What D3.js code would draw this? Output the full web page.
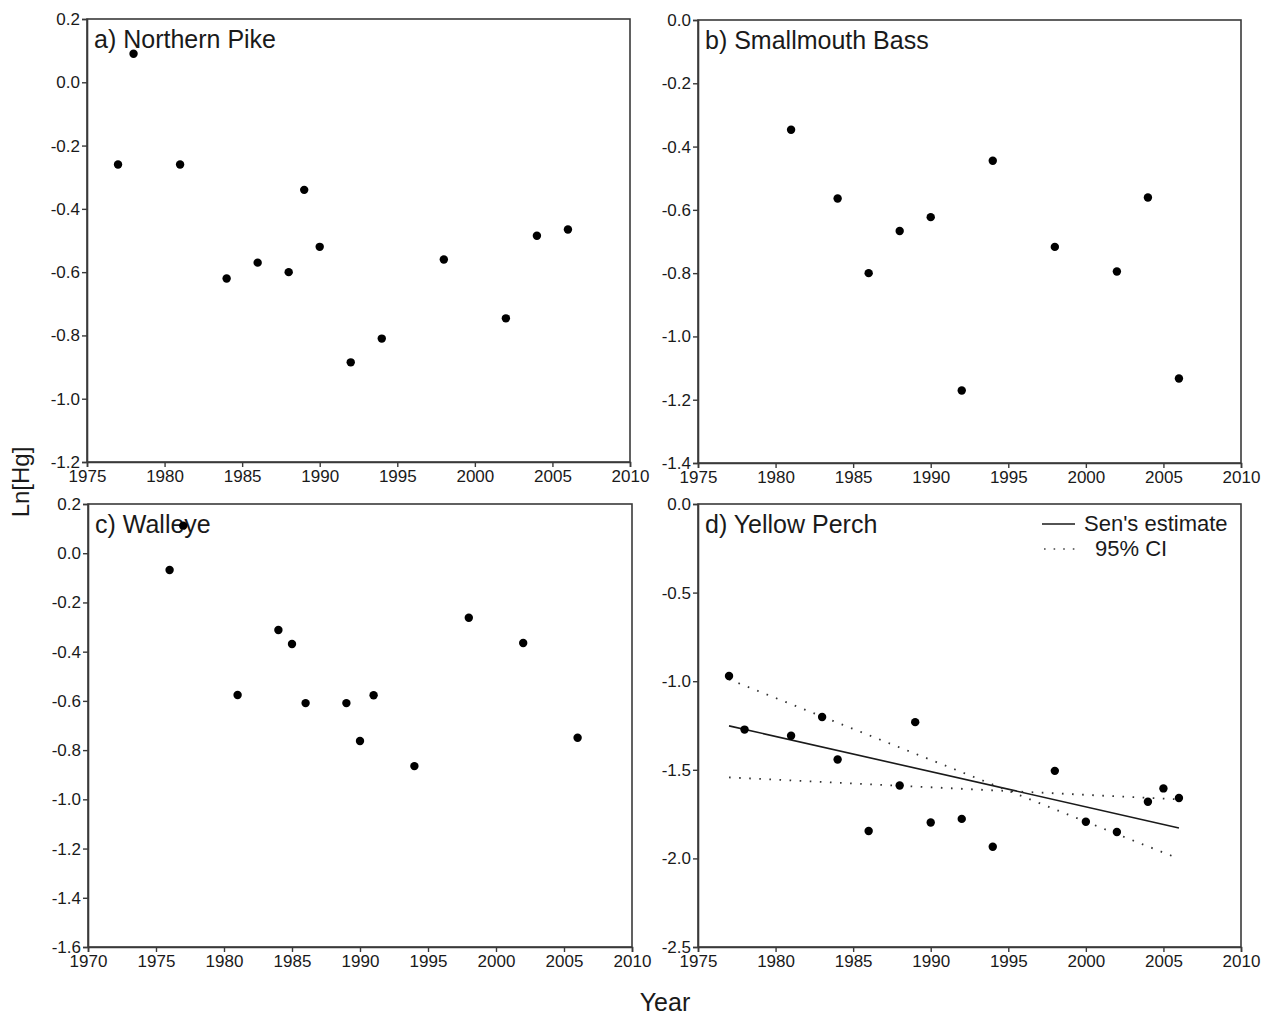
<!DOCTYPE html>
<html>
<head>
<meta charset="utf-8">
<script src="https://cdn.jsdelivr.net/npm/d3@7"></script>
<style>
  html, body { margin: 0; padding: 0; background: #fff; }
  svg { display: block; }
  text { font-family: "Liberation Sans", Arial, sans-serif; fill: #1a1a1a; }
</style>
</head>
<body>
<svg id="chart" width="1271" height="1018"></svg>
<script>
// ---- Data ----
const pikeYears   = [1977, 1978, 1981, 1984, 1986, 1988, 1989, 1990, 1992, 1994, 1998, 2002, 2004, 2006];
const pikeValues  = [-0.26, 0.09, -0.26, -0.62, -0.57, -0.60, -0.34, -0.52, -0.885, -0.81, -0.56, -0.746, -0.485, -0.465];

const bassYears   = [1981, 1984, 1986, 1988, 1990, 1992, 1994, 1998, 2002, 2004, 2006];
const bassValues  = [-0.347, -0.564, -0.80, -0.667, -0.623, -1.171, -0.445, -0.717, -0.795, -0.561, -1.133];

const walleyeYears  = [1976, 1977, 1981, 1984, 1985, 1986, 1989, 1990, 1991, 1994, 1998, 2002, 2006];
const walleyeValues = [-0.068, 0.112, -0.576, -0.312, -0.369, -0.609, -0.609, -0.763, -0.577, -0.865, -0.262, -0.365, -0.750];

const perchYears  = [1977, 1978, 1981, 1983, 1984, 1986, 1988, 1989, 1990, 1992, 1994, 1998, 2000, 2002, 2004, 2005, 2006];
const perchValues = [-0.971, -1.273, -1.308, -1.202, -1.442, -1.845, -1.589, -1.231, -1.797, -1.777, -1.934, -1.506, -1.793, -1.851, -1.680, -1.605, -1.659];

// Sen's slope estimate and 95% CI lines (endpoints: [year, value])
const senLine  = [[1977, -1.252], [2006, -1.828]];
const ciUpper  = [[1977, -0.99], [2006, -2.002]];
const ciLower  = [[1977, -1.543], [2006, -1.667]];

const xTicks1975 = [1975, 1980, 1985, 1990, 1995, 2000, 2005, 2010];
const xTicks1970 = [1970, 1975, 1980, 1985, 1990, 1995, 2000, 2005, 2010];
const yTicksA = [0.2, 0.0, -0.2, -0.4, -0.6, -0.8, -1.0, -1.2];
const yTicksB = [0.0, -0.2, -0.4, -0.6, -0.8, -1.0, -1.2, -1.4];
const yTicksC = [0.2, 0.0, -0.2, -0.4, -0.6, -0.8, -1.0, -1.2, -1.4, -1.6];
const yTicksD = [0.0, -0.5, -1.0, -1.5, -2.0, -2.5];

const panelTitles = ["a) Northern Pike", "b) Smallmouth Bass", "c) Walleye", "d) Yellow Perch"];
const legendLabels = ["Sen's estimate", "95% CI"];
const yAxisTitle = "Ln[Hg]";
const xAxisTitle = "Year";

// ---- Drawing ----
const svg = d3.select("#chart");
const frameColor = "#3a3a3a";

const panels = [
  { title: panelTitles[0], years: pikeYears, values: pikeValues, xDom: [1975, 2010], yDom: [-1.2, 0.2], xt: xTicks1975, yt: yTicksA, x0: 87, x1: 630, y0: 19, y1: 462 },
  { title: panelTitles[1], years: bassYears, values: bassValues, xDom: [1975, 2010], yDom: [-1.4, 0.0], xt: xTicks1975, yt: yTicksB, x0: 698, x1: 1241, y0: 20, y1: 463 },
  { title: panelTitles[2], years: walleyeYears, values: walleyeValues, xDom: [1970, 2010], yDom: [-1.6, 0.2], xt: xTicks1970, yt: yTicksC, x0: 88, x1: 632, y0: 504, y1: 947 },
  { title: panelTitles[3], years: perchYears, values: perchValues, xDom: [1975, 2010], yDom: [-2.5, 0.0], xt: xTicks1975, yt: yTicksD, x0: 698, x1: 1241, y0: 504, y1: 947, trend: true }
];

panels.forEach(p => {
  const x = d3.scaleLinear().domain(p.xDom).range([p.x0, p.x1]);
  const y = d3.scaleLinear().domain(p.yDom).range([p.y1, p.y0]);
  const g = svg.append("g");

  // frame
  g.append("rect")
    .attr("x", p.x0).attr("y", p.y0)
    .attr("width", p.x1 - p.x0).attr("height", p.y1 - p.y0)
    .attr("fill", "none").attr("stroke", frameColor).attr("stroke-width", 1.6);

  // axes
  const xAxis = d3.axisBottom(x).tickValues(p.xt).tickFormat(d3.format("d")).tickSize(5).tickPadding(3);
  const yAxis = d3.axisLeft(y).tickValues(p.yt).tickFormat(d => d.toFixed(1)).tickSize(5).tickPadding(2);

  const gx = g.append("g").attr("transform", `translate(0,${p.y1})`).call(xAxis);
  const gy = g.append("g").attr("transform", `translate(${p.x0},0)`).call(yAxis);
  [gx, gy].forEach(ax => {
    ax.select(".domain").attr("stroke", frameColor).attr("stroke-width", 1.6);
    ax.selectAll(".tick line").attr("stroke", frameColor).attr("stroke-width", 1.4);
    ax.selectAll(".tick text").attr("fill", "#1a1a1a")
      .style("font-family", '"Liberation Sans", Arial, sans-serif').style("font-size", "17px");
  });

  // title
  g.append("text")
    .attr("x", p.x0 + 7).attr("y", p.y0 + 29)
    .style("font-size", "25px")
    .text(p.title);

  // trend lines
  if (p.trend) {
    const line = d3.line().x(d => x(d[0])).y(d => y(d[1]));
    g.append("path").datum(senLine).attr("d", line)
      .attr("fill", "none").attr("stroke", "#1a1a1a").attr("stroke-width", 1.6);
    [ciUpper, ciLower].forEach(ci => {
      g.append("path").datum(ci).attr("d", line)
        .attr("fill", "none").attr("stroke", "#333").attr("stroke-width", 1.8)
        .attr("stroke-dasharray", "1.6,8.5");
    });

    // legend
    g.append("line").attr("x1", p.x1 - 199).attr("x2", p.x1 - 166)
      .attr("y1", p.y0 + 20).attr("y2", p.y0 + 20)
      .attr("stroke", "#1a1a1a").attr("stroke-width", 1.6);
    g.append("text").attr("x", p.x1 - 157).attr("y", p.y0 + 27)
      .style("font-size", "22px").text(legendLabels[0]);
    g.append("line").attr("x1", p.x1 - 197).attr("x2", p.x1 - 166)
      .attr("y1", p.y0 + 45).attr("y2", p.y0 + 45)
      .attr("stroke", "#444").attr("stroke-width", 1.6)
      .attr("stroke-dasharray", "1.6,8");
    g.append("text").attr("x", p.x1 - 146).attr("y", p.y0 + 52)
      .style("font-size", "22px").text(legendLabels[1]);
  }

  // points
  g.selectAll("circle.pt")
    .data(p.years.map((yr, i) => [yr, p.values[i]]))
    .enter().append("circle")
    .attr("class", "pt")
    .attr("cx", d => x(d[0]))
    .attr("cy", d => y(d[1]))
    .attr("r", 4.2)
    .attr("fill", "#000");
});

// shared axis titles
svg.append("text")
  .attr("transform", "translate(29,482) rotate(-90)")
  .attr("text-anchor", "middle")
  .style("font-size", "24px")
  .text(yAxisTitle);

svg.append("text")
  .attr("x", 665).attr("y", 1011)
  .attr("text-anchor", "middle")
  .style("font-size", "25px")
  .text(xAxisTitle);
</script>
</body>
</html>
